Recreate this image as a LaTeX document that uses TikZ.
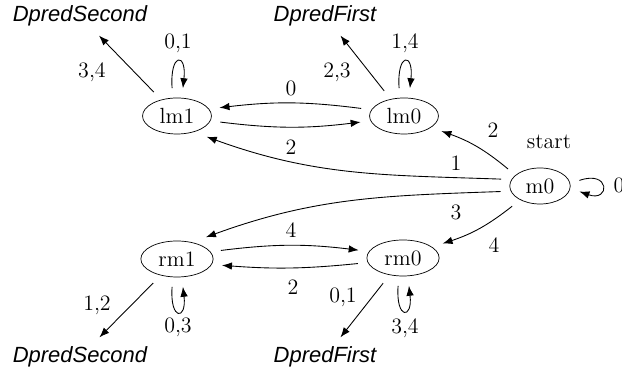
\documentclass[tikz,border=0pt]{standalone}
\usepackage{fontspec}
\newfontfamily\predfont{Liberation Sans}
\usepackage{tikz}
\usetikzlibrary{shapes.geometric, arrows.meta, positioning}

\begin{document}
\begin{tikzpicture}[
  state/.style={draw, ellipse, inner xsep=4pt, inner ysep=1pt, minimum height=0.72cm, outer sep=0.2cm, font=\fontsize{12.5}{15}\selectfont},
  pred/.style={font=\predfont\itshape\fontsize{12.5}{15}\selectfont, outer sep=2pt},
  lbl/.style={font=\fontsize{12.5}{15}\selectfont, inner sep=1pt},
  arr/.style={-{Latex[length=2mm, width=1.5mm]}, line width=0.5pt}
]
  \useasboundingbox (0, 0) rectangle (12.44, 7.46);

  % States
  \node[state] (lm1) at (3.54, 5.14) {lm1};
  \node[state] (lm0) at (8.08, 5.14) {lm0};
  \node[state] (m0) at (10.80, 3.74) {m0};
  \node[state] (rm1) at (3.54, 2.28) {rm1};
  \node[state] (rm0) at (8.06, 2.30) {rm0};

  % Predictor outputs
  \node[pred] (ds1) at (1.60, 7.14) {DpredSecond};
  \node[pred] (df1) at (6.50, 7.14) {DpredFirst};
  \node[pred] (ds2) at (1.60, 0.32) {DpredSecond};
  \node[pred] (df2) at (6.50, 0.32) {DpredFirst};

  % Start marker
  \node[lbl] (startlbl) at (10.98, 4.62) {start};

  % From m0
  \draw[arr] (m0.170) to[out=178, in=-20] (lm1.-35);
  \draw[arr] (m0.152) to[bend right=10] (lm0.-22);
  \draw[arr] (m0.188) to[out=182, in=20] (rm1.37);
  \draw[arr] (m0.-144) to[bend left=10] (rm0.20);
  \draw[arr] (m0.8) .. controls +(0.62, 0.22) and +(0.62, -0.22) .. (m0.-8);
  \node[lbl] (l1) at (9.12, 4.20) {1};
  \node[lbl] (l2) at (9.86, 4.86) {2};
  \node[lbl] (l3) at (9.12, 3.22) {3};
  \node[lbl] (l4) at (9.88, 2.56) {4};
  \node[lbl] (l0) at (12.38, 3.76) {0};

  % Upper pair
  \draw[arr] (lm0.170) to[bend right=7] (lm1.11);
  \draw[arr] (lm1.-8) to[bend right=7] (lm0.-172);
  \node[lbl] (lmtop) at (5.82, 5.70) {0};
  \node[lbl] (lmbot) at (5.82, 4.52) {2};
  \draw[arr] (lm1) -- (ds1);
  \draw[arr] (lm0) -- (df1);
  \node[lbl] (lmout1) at (1.84, 6.02) {3,4};
  \node[lbl] (lmout0) at (6.74, 6.02) {2,3};
  \draw[arr] (lm1.100) .. controls +(-0.05, 0.72) and +(0.08, 0.72) .. (lm1.78);
  \draw[arr] (lm0.100) .. controls +(-0.05, 0.72) and +(0.08, 0.72) .. (lm0.78);
  \node[lbl] (lmloop1) at (3.56, 6.60) {0,1};
  \node[lbl] (lmloop0) at (8.10, 6.60) {1,4};

  % Lower pair
  \draw[arr] (rm1.11) to[bend left=7] (rm0.170);
  \draw[arr] (rm0.-173) to[bend left=5] (rm1.-8);
  \node[lbl] (rmtop) at (5.82, 2.86) {4};
  \node[lbl] (rmbot) at (5.86, 1.72) {2};
  \draw[arr] (rm1) -- (ds2);
  \draw[arr] (rm0) -- (df2);
  \node[lbl] (rmout1) at (1.94, 1.36) {1,2};
  \node[lbl] (rmout0) at (6.86, 1.52) {0,1};
  \draw[arr] (rm1.-100) .. controls +(-0.05, -0.68) and +(0.08, -0.68) .. (rm1.-78);
  \draw[arr] (rm0.-100) .. controls +(-0.05, -0.68) and +(0.08, -0.68) .. (rm0.-78);
  \node[lbl] (rmloop1) at (3.56, 0.92) {0,3};
  \node[lbl] (rmloop0) at (8.10, 0.90) {3,4};
\end{tikzpicture}
\end{document}
